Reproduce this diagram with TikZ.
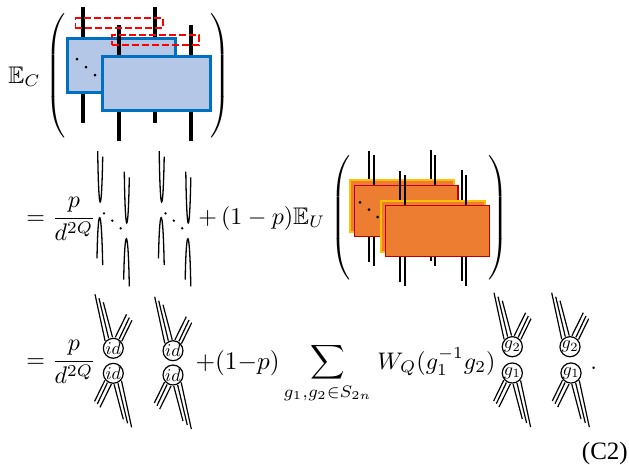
\documentclass[tikz,border=0pt]{standalone}
\usepackage{amsmath,amssymb,amsfonts}
\usepackage{xcolor}
\usepackage{fontspec}
\usepackage{tikz}
\newfontfamily\labelfont{Liberation Serif}
\definecolor{wboxfill}{HTML}{B4C7E7}
\definecolor{wboxline}{HTML}{0070C0}
\definecolor{uboxfill}{HTML}{ED7D31}
\definecolor{uboxgold}{HTML}{FFC000}
\definecolor{uboxred}{HTML}{C00000}
\newcommand{\leftparen}{$\left(\rule[-27pt]{0pt}{54pt}\right.$}
\newcommand{\rightparen}{$\left.\rule[-27pt]{0pt}{54pt}\right)$}

\begin{document}
\begin{tikzpicture}[
    x=1pt, y=-1pt,
    eqn/.style={scale=2.4, inner sep=0pt, anchor=base west},
    paren/.style={scale=2.3, inner sep=0pt},
    cbox/.style={rectangle, draw=wboxline, fill=wboxfill, line width=3pt},
    ubackbox/.style={rectangle, draw=uboxgold, fill=uboxfill, line width=2pt},
    ufrontbox/.style={rectangle, draw=uboxred, fill=uboxfill, line width=1.1pt},
    thickwire/.style={line width=4.5pt},
    thinwire/.style={line width=1.7pt},
    redbox/.style={draw=red, dash pattern=on 7pt off 3pt, line width=1.8pt, inner sep=0pt},
    cupwire/.style={line width=1.3pt},
    legwire/.style={line width=1.2pt},
    vertex/.style={circle, draw, fill=white, line width=1.2pt, inner sep=0pt, minimum size=10.6pt, scale=1.8},
    pics/topvertex/.style={code={
        \node[vertex] (-v) at (0,0) {$#1$};
        \foreach \ang/\ex/\ey in {138/-18.3/-54, 115/-14.3/-50, 94/-10/-46, 80/13.3/-34, 58/16/-30.7, 40/18.7/-28}
            \draw[legwire] (-v.\ang) -- (\ex,\ey);
    }},
    pics/bottomvertex/.style={code={
        \node[vertex] (-v) at (0,0) {$#1$};
        \foreach \ang/\ex/\ey in {-42/18.3/54, -65/14.3/50, -86/10/46, -100/-13.3/34, -122/-16/30.7, -140/-18.7/28}
            \draw[legwire] (-v.\ang) -- (\ex,\ey);
    }},
    pics/cupgroup/.style={code={
        \draw[cupwire] (97.7,151) .. controls (98.6,218) and (101.6,218) .. (102.7,156.7);
        \draw[cupwire] (124.3,171.7) .. controls (125.2,239) and (128.2,239) .. (129.3,177.3);
        \draw[cupwire] (97,258.3) .. controls (98,203) and (101.5,203) .. (102.7,265);
        \draw[cupwire] (123.7,279.7) .. controls (124.7,224) and (128.2,224) .. (129.3,286.3);
        \fill (104,213.3) circle (1.3) (112.3,220.7) circle (1.3) (120.7,228.3) circle (1.3);
    }}
]
    \useasboundingbox (0,0) rectangle (629,464);

    % first line
    \node[eqn] (ec) at (8,83) {$\mathbb{E}_C$};
    \node[paren] (lpc) at (57,79) {\leftparen};
    \node[paren] (rpc) at (219,79) {\rightparen};
    \draw[thickwire] (83,7) -- (83,123);
    \draw[thickwire] (155,7) -- (155,123);
    \node[cbox, minimum width=108pt, minimum height=54pt] (cback) at (121,65) {};
    \draw[thickwire] (119,25) -- (119,141);
    \draw[thickwire] (191,25) -- (191,141);
    \fill (77,59) circle (1.5) (86,67) circle (1.5) (95,75) circle (1.5);
    \node[cbox, minimum width=108pt, minimum height=54pt] (cfront) at (156,83) {};
    \node[redbox, minimum width=87.5pt, minimum height=10.2pt] (slotone) at (119.2,23) {};
    \node[redbox, minimum width=87pt, minimum height=10pt] (slottwo) at (155.5,40) {};

    % second line
    \node[eqn] (eqa) at (26,224) {$=\dfrac{p}{d^{2Q}}$};
    \pic at (0,0) {cupgroup};
    \pic at (61.5,0) {cupgroup};
    \node[eqn] (midterm) at (198,224) {$+\,(1-p)\mathbb{E}_U$};
    \node[paren] (lpu) at (342,221) {\leftparen};
    \node[paren] (rpu) at (497,221) {\rightparen};

    \draw[thinwire] (368.7,151) -- (368.7,261.7);
    \draw[thinwire] (431,150) -- (431,260.7);
    \node[ubackbox, minimum width=104pt, minimum height=52pt] (uback) at (401.5,206) {};
    \draw[thinwire] (373.7,155) -- (373.7,265.7);
    \draw[thinwire] (435,155) -- (435,265.7);
    \node[ufrontbox, minimum width=103.5pt, minimum height=51.5pt] (umid) at (406.2,211) {};
    \fill (360,202.3) circle (1.5) (369,209.7) circle (1.5) (377.7,217) circle (1.5);
    \draw[thinwire] (400,171) -- (400,281.7);
    \draw[thinwire] (462,170) -- (462,281);
    \node[ubackbox, minimum width=103.5pt, minimum height=51pt] (uback2) at (433.2,226.7) {};
    \draw[thinwire] (405,175) -- (405,286);
    \draw[thinwire] (466,175) -- (466,286);
    \node[ufrontbox, minimum width=104pt, minimum height=51.5pt] (ufront) at (437.3,231) {};

    % third line
    \node[eqn] (eqb) at (26,367) {$=\dfrac{p}{d^{2Q}}$};
    \pic at (113.3,348.3) {topvertex={id}};
    \pic at (113.3,373.3) {bottomvertex={id}};
    \pic at (173,350.7) {topvertex={id}};
    \pic at (173,375) {bottomvertex={id}};
    \node[eqn, scale=1.05] (lastterm) at (195,369) {$+(1{-}p)$};
    \node[scale=2.4, inner sep=0pt, anchor=north] (sumsign) at (327.5,343) {$\displaystyle\sum_{g_1,g_2\in S_{2n}}$};
    \node[eqn] (weight) at (377,369) {$W_Q(g_1^{-1}g_2)$};
    \pic at (512.3,346.7) {topvertex={g_2}};
    \pic at (512.3,373) {bottomvertex={g_1}};
    \pic at (570,346.7) {topvertex={g_2}};
    \pic at (571,373) {bottomvertex={g_1}};
    \node[eqn] (stop) at (590,369) {.};
    \node[inner sep=0pt, anchor=base east, font=\labelfont\fontsize{25}{28}\selectfont] (tag) at (628,459) {(C2)};
\end{tikzpicture}
\end{document}
